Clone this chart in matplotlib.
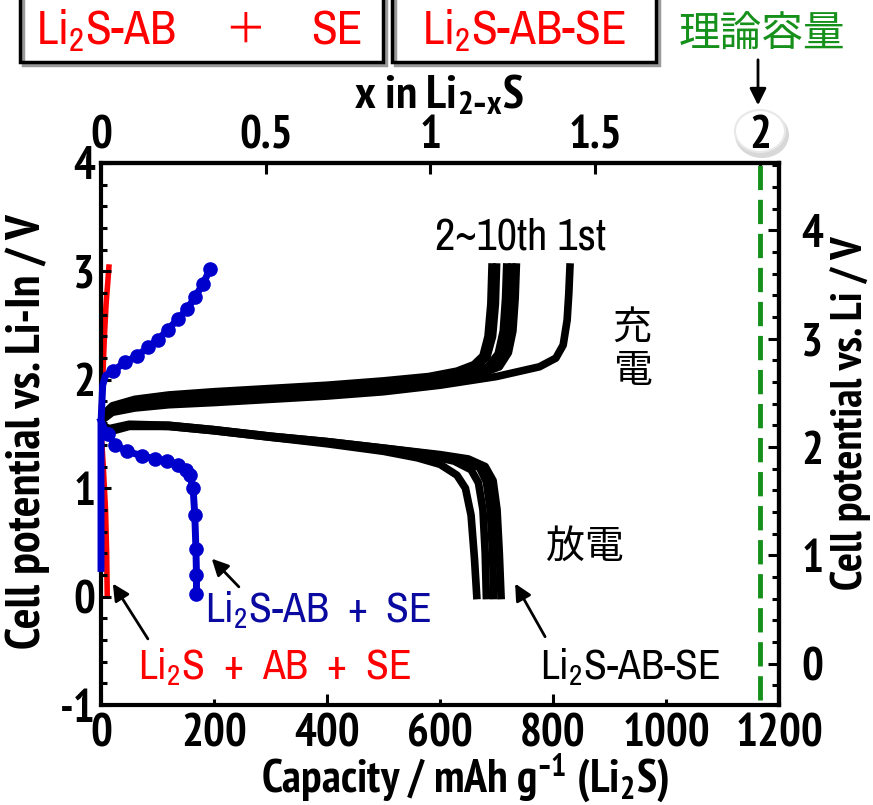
import matplotlib
matplotlib.use("Agg")
import matplotlib.pyplot as plt
from matplotlib import font_manager
from matplotlib.patches import Rectangle, Ellipse, FancyArrowPatch
from matplotlib.transforms import Affine2D
from matplotlib.ticker import MultipleLocator

# ---- data (capacity in mAh/g, potential in V vs Li-In) ----
theo_cap = 1166.0   # Li2S theoretical capacity
li_in_offset = 0.62  # V vs Li = V vs Li-In + 0.62

# Li2S-AB-SE : charge curves
ch_1st_cap = [0, 20, 60, 120, 200, 300, 400, 500, 600, 700, 776, 805, 818, 825, 828, 830]
ch_1st_v = [1.62, 1.70, 1.74, 1.77, 1.79, 1.82, 1.85, 1.89, 1.95, 2.03, 2.12, 2.20, 2.32, 2.55, 2.80, 3.04]
ch_a_cap = [0, 20, 60, 120, 200, 300, 400, 500, 580, 630, 660, 676, 685, 690, 692]
ch_a_v = [1.66, 1.76, 1.82, 1.86, 1.89, 1.92, 1.95, 1.99, 2.03, 2.08, 2.14, 2.22, 2.40, 2.70, 3.04]
ch_b_cap = [0, 20, 60, 120, 200, 300, 400, 500, 580, 635, 665, 683, 693, 698, 700]
ch_b_v = [1.65, 1.74, 1.80, 1.84, 1.87, 1.90, 1.93, 1.97, 2.01, 2.06, 2.12, 2.21, 2.40, 2.70, 3.04]
ch_c_cap = [0, 20, 60, 120, 200, 300, 400, 500, 590, 650, 685, 703, 712, 716, 718]
ch_c_v = [1.64, 1.73, 1.79, 1.83, 1.86, 1.89, 1.92, 1.96, 2.00, 2.05, 2.12, 2.24, 2.45, 2.75, 3.04]
ch_d_cap = [0, 20, 60, 120, 200, 300, 400, 500, 600, 660, 695, 712, 721, 725, 727]
ch_d_v = [1.63, 1.72, 1.78, 1.82, 1.85, 1.88, 1.91, 1.95, 2.00, 2.05, 2.12, 2.25, 2.45, 2.75, 3.04]
ch_e_cap = [0, 20, 60, 120, 200, 300, 400, 500, 600, 670, 705, 721, 729, 733, 735]
ch_e_v = [1.63, 1.71, 1.77, 1.81, 1.84, 1.87, 1.90, 1.94, 1.99, 2.05, 2.12, 2.25, 2.45, 2.75, 3.04]

# Li2S-AB-SE : discharge curves
dis_a_cap = [0, 15, 50, 120, 200, 300, 400, 500, 560, 600, 630, 645, 655, 661, 665]
dis_a_v = [1.55, 1.52, 1.57, 1.57, 1.53, 1.47, 1.41, 1.34, 1.28, 1.22, 1.12, 1.00, 0.75, 0.35, 0.01]
dis_b_cap = [0, 15, 50, 120, 200, 300, 400, 500, 580, 625, 655, 668, 676, 680, 682]
dis_b_v = [1.56, 1.53, 1.58, 1.57, 1.53, 1.47, 1.42, 1.36, 1.30, 1.25, 1.17, 1.05, 0.80, 0.40, 0.01]
dis_c_cap = [0, 15, 50, 120, 200, 300, 400, 500, 590, 640, 670, 682, 689, 693, 695]
dis_c_v = [1.57, 1.54, 1.58, 1.58, 1.54, 1.48, 1.43, 1.37, 1.31, 1.26, 1.19, 1.06, 0.80, 0.40, 0.01]
dis_d_cap = [0, 15, 50, 120, 200, 300, 400, 500, 600, 650, 680, 694, 701, 705, 708]
dis_d_v = [1.58, 1.55, 1.59, 1.58, 1.54, 1.48, 1.43, 1.37, 1.31, 1.27, 1.20, 1.07, 0.80, 0.40, 0.01]

# Li2S-AB + SE (blue)
blue_ch_cap = [0, 0, 3, 8, 21, 42, 64, 83, 101, 118, 136, 152, 166, 180, 193]
blue_ch_v = [0.26, 1.60, 1.95, 2.04, 2.08, 2.16, 2.22, 2.30, 2.37, 2.46, 2.56, 2.65, 2.76, 2.88, 3.02]
blue_dis_cap = [0, 5, 12, 25, 46, 72, 95, 117, 136, 150, 157, 163, 166, 168, 169, 169]
blue_dis_v = [1.62, 1.56, 1.50, 1.40, 1.34, 1.30, 1.27, 1.25, 1.21, 1.17, 1.12, 1.00, 0.75, 0.44, 0.20, 0.02]

# Li2S + AB + SE (red)
red_ch_cap = [0, 3, 6, 9, 12, 14]
red_ch_v = [1.62, 2.00, 2.40, 2.70, 2.90, 3.04]
red_dis_cap = [0, 4, 8, 10, 11]
red_dis_v = [1.55, 1.20, 0.80, 0.40, 0.02]

cap_ticks = [0, 200, 400, 600, 800, 1000, 1200]
x_ticks = [0, 0.5, 1, 1.5, 2]
x_ticklabels = ['0', '0.5', '1', '1.5', '2']


# ---- fonts: want something like Arial Narrow ----
def _w(f):
    w = f.weight
    if isinstance(w, str):
        return {'bold': 700, 'normal': 400, 'regular': 400}.get(w, 400)
    return w


def pick(prefs, bold):
    for name in prefs:
        for f in font_manager.fontManager.ttflist:
            if f.name == name and f.style == 'normal' and ((_w(f) >= 700) if bold else (_w(f) == 400)):
                return name
    return 'Liberation Sans'


narrow_prefs = ['Liberation Sans Narrow', 'Arial Narrow', 'Archivo Narrow', 'PT Sans Narrow',
                'Pragati Narrow', 'Roboto Condensed', 'IBM Plex Sans Condensed',
                'Sofia Sans Condensed', 'Encode Sans Condensed', 'Barlow Condensed']
font_b = pick(narrow_prefs, True)
font_r = pick(narrow_prefs, False)
cjk = ['Noto Sans CJK JP', 'DejaVu Sans']
plt.rcParams['font.family'] = [font_b, 'DejaVu Sans']
plt.rcParams['font.weight'] = 'bold'
plt.rcParams['axes.unicode_minus'] = False
reg = [font_r, 'DejaVu Sans']

W, H = 873, 805
fig = plt.figure(figsize=(W / 100, H / 100), dpi=100)
ax = fig.add_axes([101 / W, 1 - 705 / H, 678 / W, 542 / H])
pix = Affine2D().scale(1 / W, -1 / H).translate(0, 1) + fig.transFigure

black_lw = 5.5
for c, v in [(ch_e_cap, ch_e_v), (ch_d_cap, ch_d_v), (ch_c_cap, ch_c_v),
             (ch_b_cap, ch_b_v), (ch_a_cap, ch_a_v), (ch_1st_cap, ch_1st_v),
             (dis_a_cap, dis_a_v), (dis_b_cap, dis_b_v), (dis_c_cap, dis_c_v),
             (dis_d_cap, dis_d_v)]:
    ax.plot(c, v, color='black', lw=black_lw, solid_joinstyle='round', zorder=2)

ax.plot(red_ch_cap, red_ch_v, color='#ff0000', lw=4, zorder=1.2, clip_on=False)
ax.plot(red_dis_cap, red_dis_v, color='#ff0000', lw=4, zorder=1.2, clip_on=False)

blue = '#0000cc'
ax.plot(blue_ch_cap, blue_ch_v, color=blue, lw=5, marker='o', ms=9.5,
        markevery=list(range(4, len(blue_ch_cap))), zorder=4, clip_on=False)
ax.plot(blue_dis_cap, blue_dis_v, color=blue, lw=5, marker='o', ms=9.5,
        markevery=list(range(2, len(blue_dis_cap))), zorder=4, clip_on=False)

green = '#15901a'
ax.axvline(theo_cap, ymin=0.01, ymax=1, color=green, lw=3.5, ls=(0, (5, 2)), zorder=1.5)

ax.set_xlim(0, 1200)
ax.set_ylim(-1, 4)

# ticks
tick_fs = 33
for s in ax.spines.values():
    s.set_linewidth(3)
ax.set_xticks(cap_ticks)
ax.set_xticklabels([str(t) for t in cap_ticks])
ax.yaxis.set_major_locator(MultipleLocator(1))
ax.yaxis.set_minor_locator(MultipleLocator(0.2))
ax.tick_params(axis='both', which='both', direction='in', top=False, right=False,
               width=2.2, labelsize=tick_fs)
ax.tick_params(axis='x', which='major', length=8, pad=6)
ax.tick_params(axis='y', which='major', length=7, pad=4)
ax.tick_params(axis='y', which='minor', length=4.5)
for t, val in zip(ax.xaxis.get_major_ticks(), cap_ticks):
    if val % 400 != 0:
        t.tick1line.set_markersize(4.5)

top = ax.secondary_xaxis('top', functions=(lambda c: c * 2 / theo_cap, lambda x: x * theo_cap / 2))
top.set_xticks(x_ticks)
top.set_xticklabels(x_ticklabels)
top.tick_params(direction='in', length=8, width=2.2, pad=4, labelsize=tick_fs)
top.spines['top'].set_linewidth(3)

right = ax.secondary_yaxis('right', functions=(lambda v: v + li_in_offset, lambda v: v - li_in_offset))
right.set_yticks([0, 1, 2, 3, 4])
right.yaxis.set_minor_locator(MultipleLocator(0.2))
right.tick_params(which='both', direction='in', width=2.2, labelsize=tick_fs, pad=16)
right.tick_params(which='major', length=8)
right.tick_params(which='minor', length=5)
right.spines['right'].set_linewidth(3)

# axis labels
fig.text(465 / W, 1 - 778 / H, r'Capacity / mAh g$\mathregular{^{\text{-}1}}$ (Li$\mathregular{_2}$S)',
         ha='center', va='center', fontsize=33)
fig.text(28 / W, 1 - 432 / H, 'Cell potential vs. Li-In / V', rotation=90,
         ha='center', va='center', fontsize=35)
fig.text(851 / W, 1 - 413 / H, 'Cell potential vs. Li / V', rotation=90,
         ha='center', va='center', fontsize=32)
fig.text(439 / W, 1 - 95 / H, r'x in Li$\mathregular{_{2\text{-}x}}$S',
         ha='center', va='center', fontsize=34)

# bubble behind the "2"
fig.add_artist(Ellipse((762, 135), 54, 46, transform=pix, fc='#d8d8d8', ec='none', zorder=-2))
fig.add_artist(Ellipse((760, 131), 50, 42, transform=pix, fc='white', ec='#e8e8e8', lw=1.5, zorder=-1))

# top boxes
for x0, x1 in [(20, 383), (392, 656)]:
    fig.add_artist(Rectangle((x0 + 3, -10), x1 - x0, 75, transform=pix, fill=False,
                             ec='#9a9a9a', lw=2.5))
    fig.add_artist(Rectangle((x0, -10), x1 - x0, 72, transform=pix, fill=False,
                             ec='black', lw=2.5))
fig.text(106 / W, 1 - 31 / H, r'Li$\mathregular{_2}$S-AB', color='red', fontsize=34,
         family=reg, fontweight='normal', ha='center', va='center')
fig.text(245 / W, 1 - 31 / H, '＋', color='red', fontsize=30, family=cjk,
         fontweight='normal', ha='center', va='center')
fig.text(337 / W, 1 - 31 / H, 'SE', color='red', fontsize=34, family=reg,
         fontweight='normal', ha='center', va='center')
fig.text(524 / W, 1 - 31 / H, r'Li$\mathregular{_2}$S-AB-SE', color='red', fontsize=34,
         family=reg, fontweight='normal', ha='center', va='center')
fig.text(762 / W, 1 - 35 / H, '理論容量', color=green, fontsize=30, family=cjk,
         fontweight='normal', ha='center', va='center')
fig.add_artist(FancyArrowPatch((758, 57), (758, 108), transform=pix, arrowstyle='-|>',
                               mutation_scale=25, lw=2, color='black'))

# in-plot labels
ax.text(591, 3.31, '2~10th 1st', fontsize=32, family=reg, fontweight='normal',
        ha='left', va='center')
ax.text(940, 2.28, '充\n電', fontsize=28, family=cjk, fontweight='normal',
        ha='center', va='center', linespacing=1.1)
ax.text(857, 0.46, '放電', fontsize=28, family=cjk, fontweight='normal', ha='center', va='center')
ax.text(184, -0.13, r'Li$\mathregular{_2}$S-AB  +  SE', color='#0a0aa0', fontsize=30,
        family=reg, fontweight='normal', ha='left', va='center')
ax.text(65, -0.65, r'Li$\mathregular{_2}$S  +  AB  +  SE', color='red', fontsize=30,
        family=reg, fontweight='normal', ha='left', va='center')
ax.text(777, -0.65, r'Li$\mathregular{_2}$S-AB-SE', color='black', fontsize=30,
        family=reg, fontweight='normal', ha='left', va='center')

arrow = dict(arrowstyle='-|>', color='black', lw=2, mutation_scale=25, shrinkA=0, shrinkB=0)
ax.annotate('', xy=(21, 0.12), xytext=(83, -0.39), arrowprops=arrow)
ax.annotate('', xy=(196, 0.35), xytext=(244, 0.09), arrowprops=arrow)
ax.annotate('', xy=(733, 0.12), xytext=(786, -0.37), arrowprops=arrow)

fig.savefig('out.png', dpi=100)
